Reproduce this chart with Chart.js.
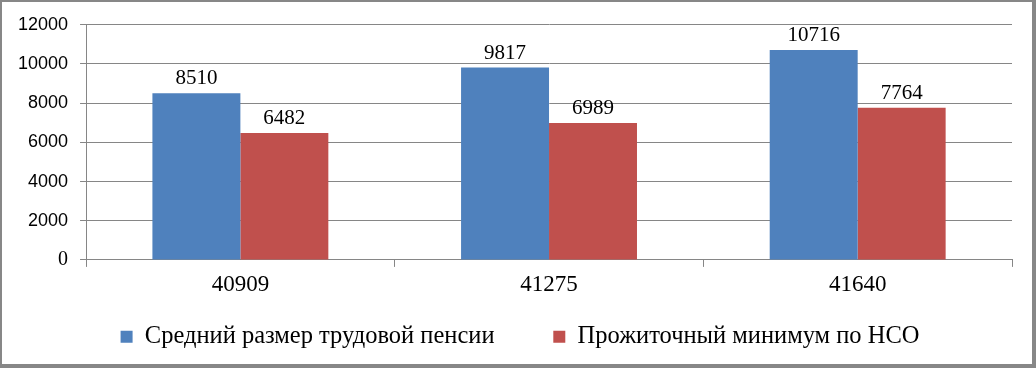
<!DOCTYPE html>
<html>
<head>
<meta charset="utf-8">
<script src="https://cdn.jsdelivr.net/npm/chart.js@4"></script>
<style>
  html, body { margin: 0; padding: 0; background: #fff; }
  #wrap {
    width: 1036px; height: 368px; box-sizing: border-box;
    border-style: solid; border-color: #878787;
    border-width: 2px 4px 4px 2px;
    position: relative;
  }
</style>
</head>
<body>
<div id="wrap"><canvas id="chart"></canvas></div>
<script>
Chart.defaults.animation = false;
Chart.defaults.font.family = "'Liberation Serif', 'DejaVu Serif', serif";
Chart.defaults.color = "#000";

const categories = ["40909", "41275", "41640"];
const pension = [8510, 9817, 10716];
const minimum = [6482, 6989, 7764];
const seriesNames = ["Средний размер трудовой пенсии", "Прожиточный минимум по НСО"];

// values above bars
const valueLabels = {
  id: "valueLabels",
  afterDatasetsDraw(chart) {
    const ctx = chart.ctx;
    ctx.save();
    ctx.font = "21px 'Liberation Serif'";
    ctx.fillStyle = "#000";
    ctx.textAlign = "center";
    ctx.textBaseline = "bottom";
    chart.data.datasets.forEach((ds, i) => {
      chart.getDatasetMeta(i).data.forEach((bar, j) => {
        ctx.fillText(String(ds.data[j]), bar.x, bar.y - 4);
      });
    });
    ctx.restore();
  }
};

// legend sits a little right of centre in the original
const legendNudge = {
  id: "legendNudge",
  afterLayout(chart) {
    chart.legend.left += 11;
    chart.legend.right += 11;
  }
};

new Chart(document.getElementById("chart"), {
  type: "bar",
  data: {
    labels: categories,
    datasets: [
      { label: seriesNames[0], data: pension, backgroundColor: "#4F81BD" },
      { label: seriesNames[1], data: minimum, backgroundColor: "#C0504D" }
    ]
  },
  options: {
    responsive: true,
    maintainAspectRatio: false,
    layout: { padding: { top: 13, right: 20, left: 4, bottom: 5 } },
    datasets: { bar: { categoryPercentage: 0.57, barPercentage: 1 } },
    scales: {
      x: {
        grid: { drawOnChartArea: false, drawTicks: true, tickLength: 7, color: "#868686" },
        border: { color: "#868686" },
        ticks: { font: { size: 23 }, padding: 4 }
      },
      y: {
        min: 0, max: 12000,
        ticks: {
          stepSize: 2000,
          font: c => c.tick && c.tick.value === 0
            ? { family: "'Liberation Serif'", size: 20 }
            : { family: "'Liberation Sans'", size: 18 },
          padding: 12,
          callback: v => String(v)
        },
        grid: { color: "#868686", tickLength: 6 },
        border: { color: "#868686" }
      }
    },
    plugins: {
      tooltip: { enabled: false },
      legend: {
        position: "bottom",
        labels: {
          font: { size: 24.5 },
          boxWidth: 12, boxHeight: 12,
          padding: 22,
          generateLabels(chart) {
            const items = Chart.defaults.plugins.legend.labels.generateLabels(chart);
            items[0].text += "\u2003\u2002";
            return items;
          }
        }
      }
    }
  },
  plugins: [valueLabels, legendNudge]
});
</script>
</body>
</html>
